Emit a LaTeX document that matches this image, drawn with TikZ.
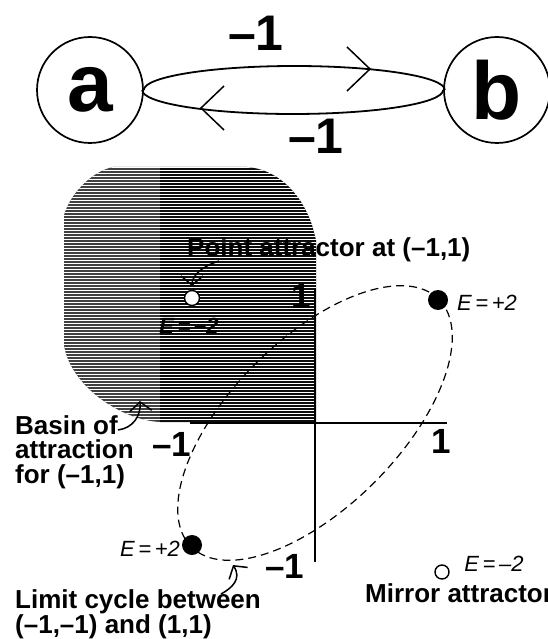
\documentclass[tikz,border=0pt]{standalone}
\usepackage{fontspec}
\setmainfont{Liberation Sans}
\usetikzlibrary{arrows.meta}
\begin{document}
\begin{tikzpicture}[x=1pt,y=-1pt,
  every node/.style={inner sep=0pt},
  ring/.style={circle,draw,line width=1.7pt,minimum size=106pt,font=\fontsize{82}{82}\selectfont\bfseries},
  edge/.style={line width=1.8pt},
  chev/.style={line width=1.5pt},
  wt/.style={font=\fontsize{50}{50}\selectfont\bfseries},
  ax/.style={line width=2.4pt},
  axl/.style={font=\fontsize{35}{35}\selectfont\bfseries},
  lbl/.style={font=\fontsize{26}{24.5}\selectfont\bfseries,align=left},
  en/.style={font=\fontsize{22}{22}\selectfont\itshape},
  fdot/.style={circle,fill,minimum size=20pt},
  odot/.style={circle,draw,line width=1.4pt,minimum size=15pt,fill=white},
  pointer/.style={line width=1.5pt,-{Straight Barb[length=9pt,width=22pt,line width=1.5pt]}},
  limit/.style={line width=1.2pt,dash pattern=on 8pt off 5pt},
]
\useasboundingbox (0,0) rectangle (548,639);

% ---- top graph ----
\node[ring] (a) at (90,90) {a};
\node[ring] (b) at (497,90) {b};
\draw[edge] (a.east) arc[start angle=180, end angle=360, x radius=150.5, y radius=24];
\draw[edge] (b.west) arc[start angle=0, end angle=180, x radius=150.5, y radius=24];
\draw[chev] (347,47) -- (370,69) -- (347,91);
\draw[chev] (224,86) -- (201,108) -- (224,130);
\node[wt] (w1) at (256,33) {–1};
\node[wt] (w2) at (316,136) {–1};

% ---- basin shading ----
\begin{scope}
\clip (113,167) -- (247,167) .. controls (275,169) and (300,190) .. (312,225) -- (316,240) -- (316,422)
  -- (160,422) .. controls (120,420) and (70,385) .. (64,345) -- (64,215)
  .. controls (70,195) and (90,172) .. (113,167) -- cycle;
\fill[black!75] (60,160) rectangle (160,425);
\fill[black!95] (160,160) rectangle (320,425);
\foreach \yy in {167.5,170.5,...,421} {
  \draw[line width=0.8pt, white] (60,\yy) -- (320,\yy);
}
\end{scope}

% ---- axes ----
\coordinate (O) at (315,423);
\coordinate (yt) at (315,289);
\coordinate (yb) at (315,562);
\coordinate (xl) at (190,423);
\coordinate (xr) at (447,423);
\draw[ax] (yt) -- (yb);
\draw[ax] (xl) -- (xr);
\node[axl] (t1) at (301,296) {1};
\node[axl] (r1) at (441,441) {1};
\node[axl] (l1) at (172,444) {–1};
\node[axl] (b1) at (285,566) {–1};

% ---- limit cycle ----
\draw[limit, rotate around={45:(O)}] (O) ellipse [x radius=175, y radius=84];

\node[fdot] (d1) at (438,300) {};
\node[fdot] (d2) at (192,545) {};
\node[odot] (o1) at (192,298) {};
\node[odot, minimum size=14pt] (o2) at (442,572) {};

\node[en, font=\fontsize{22}{22}\selectfont\bfseries\itshape] (e1) at (189,326) {E\,=\,–2};
\node[en] (e2) at (487,303) {E\,=\,+2};
\node[en] (e3) at (150,549) {E\,=\,+2};
\node[en] (e4) at (494,564) {E\,=\,–2};

% ---- labels ----
\node[lbl, anchor=base west] (pa) at (187,256) {Point attractor at (–1,1)};
\node[lbl, anchor=north west] (basin) at (15,415) {Basin of\\attraction\\for (–1,1)};
\node[lbl, anchor=north west, font=\fontsize{26}{23}\selectfont\bfseries] (lc) at (15,589) {Limit cycle between\\(–1,–1) and (1,1)};
\node[lbl, anchor=base west] (ma) at (365,602) {Mirror attractor};

% ---- pointers ----
\coordinate (pas) at (219,261);
\coordinate (pat) at (192,286);
\draw[pointer] (pas) .. controls (203,266) and (192,275) .. (pat);
\coordinate (bs) at (118,430);
\coordinate (bt) at (140,401);
\draw[pointer] (bs) .. controls (133,428) and (141,416) .. (bt);
\coordinate (ls) at (221,594);
\coordinate (lt) at (233,565);
\draw[pointer] (ls) .. controls (232,588) and (242,579) .. (lt);
\end{tikzpicture}
\end{document}
